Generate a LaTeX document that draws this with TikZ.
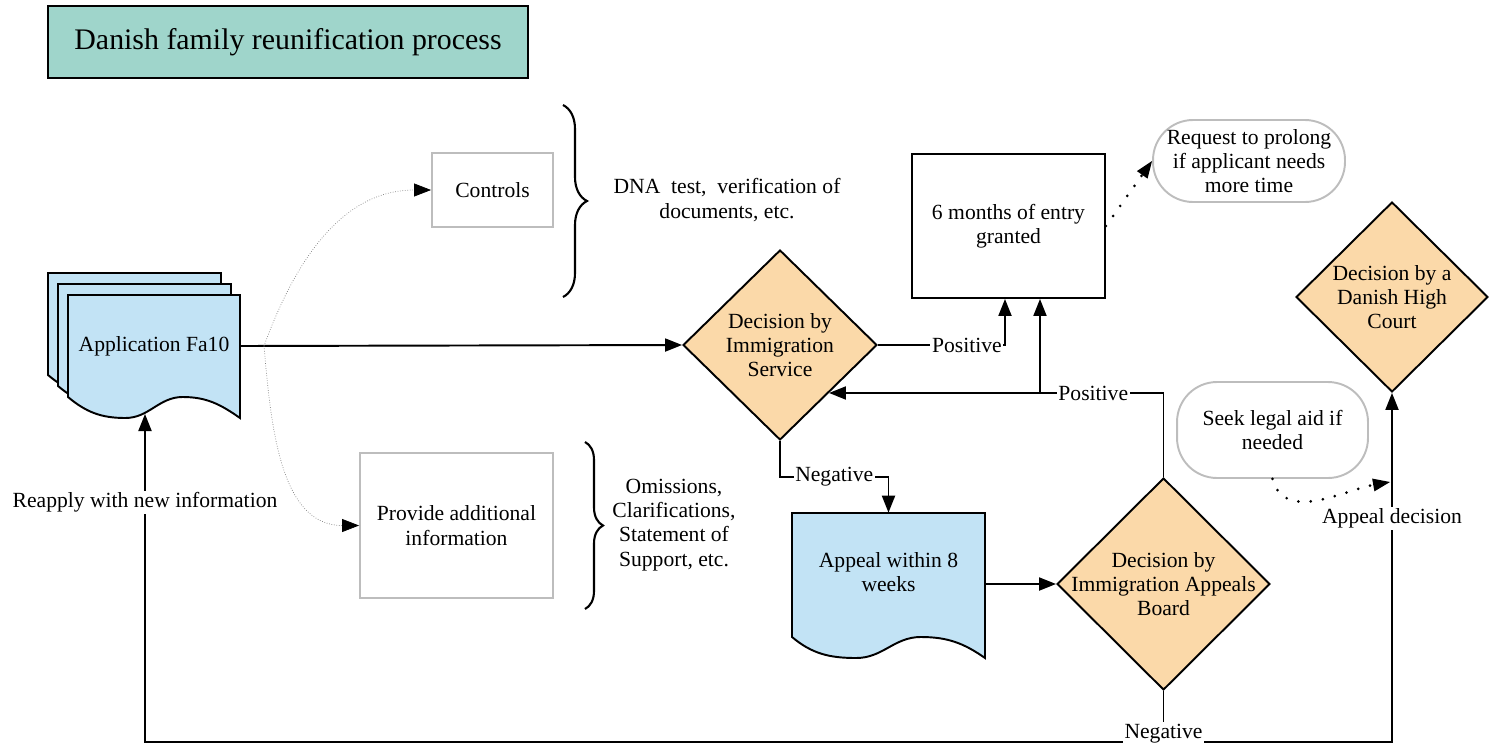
\documentclass[tikz,border=0pt]{standalone}
\usepackage{fontspec}
\setmainfont{Liberation Serif}
\usetikzlibrary{shapes.geometric,arrows.meta,decorations.pathreplacing}

\definecolor{titleteal}{HTML}{9FD5CB}
\definecolor{docblue}{HTML}{C2E3F5}
\definecolor{decorange}{HTML}{FBD9A9}
\definecolor{boxgray}{HTML}{BDBDBD}

% x0, top, width, bottom
\newcommand{\docshape}[4]{(#1,#2) -- ({#1+#3},#2) -- ({#1+#3},#4) to[out=145,in=0] ({#1+2*#3/3},{#4-21}) to[out=180,in=0] ({#1+#3/3},#4) to[out=180,in=-40] (#1,{#4-21}) -- cycle}

\tikzset{
  every node/.style={font=\fontsize{12.3}{13.8}\selectfont},
  conn/.style={line width=1.1pt},
  arr/.style={conn,-{Triangle[length=3.4mm,width=2.6mm]}},
  dotarr/.style={densely dotted,gray,-{Triangle[length=3.4mm,width=2.6mm,black]}},
  blackdot/.style={line width=1.7pt,line cap=round,dash pattern=on 0pt off 7pt,-{Triangle[length=3.4mm,width=2.6mm,line width=0pt]}},
  lab/.style={fill=white,inner sep=1pt},
  graybox/.style={draw=boxgray,line width=1.1pt,align=center},
  pill/.style={draw=boxgray,line width=1.1pt,rounded corners=0.8cm,align=center},
  decision/.style={diamond,draw,fill=decorange,line width=1.1pt,inner sep=0pt},
  docfill/.style={draw,fill=docblue,line width=1.1pt},
  bracket/.style={line width=1.2pt,decorate},
}

\begin{document}
\begin{tikzpicture}[x=0.02cm,y=-0.02cm]
  \useasboundingbox (0,0) rectangle (1497,744);

  \node[draw,fill=titleteal,line width=1.1pt,minimum width=9.6cm,minimum height=1.44cm,font=\fontsize{17}{20}\selectfont] (title) at (288,42) {Danish family reunification process};

  \draw[docfill] \docshape{48}{273}{173}{396};
  \draw[docfill] \docshape{58}{284}{173}{407};
  \draw[docfill] \docshape{68}{295}{172}{418};
  \node[minimum width=3.44cm] (app) at (154,346) {Application Fa10};
  \coordinate (appbot) at (145,414);
  \coordinate (spl) at (264,346);

  \node[graybox,minimum width=2.42cm,minimum height=1.48cm] (ctl) at (492.5,190) {Controls};
  \node[graybox,minimum width=3.86cm,minimum height=2.9cm] (prov) at (456.5,525.5) {Provide additional\\information};
  \node[align=center] (dna) at (727,200) {DNA~ test,~ verification of\\documents, etc.};
  \node[align=center] (oms) at (674,525) {Omissions,\\Clarifications,\\Statement of\\Support, etc.};
  \draw[bracket,decoration={brace,amplitude=0.48cm}] (563,105) -- (563,297);
  \draw[bracket,decoration={brace,amplitude=0.36cm}] (585,442) -- (585,609);

  \node[decision,minimum width=3.88cm,minimum height=3.8cm] (dis) at (780,345) {};
  \node[align=center] (dis-t) at (dis) {Decision by\\Immigration\\Service};

  \node[draw,line width=1.1pt,minimum width=3.86cm,minimum height=2.88cm,align=center] (grant) at (1008.5,226) {6 months of entry\\granted};
  \node[pill,minimum width=3.84cm,minimum height=1.64cm] (req) at (1249,161) {Request to prolong\\if applicant needs\\more time};

  \draw[docfill] \docshape{792}{513}{193}{658};
  \node[minimum width=3.86cm,minimum height=2.36cm,align=center] (apl) at (888.5,572) {Appeal within 8\\weeks};

  \node[decision,minimum width=4.26cm,minimum height=4.24cm] (apb) at (1163.5,584) {};
  \node[align=center] (apb-t) at (apb) {Decision by\\Immigration Appeals\\Board};

  \node[decision,minimum width=3.84cm,minimum height=3.8cm] (hc) at (1392,297) {};
  \node[align=center] (hc-t) at (hc) {Decision by a\\Danish High\\Court};

  \node[pill,minimum width=3.82cm,minimum height=1.92cm] (seek) at (1272.5,430) {Seek legal aid if\\needed};
  \coordinate (aid) at (1390,482);
  \coordinate (bot) at (1163.5,742);

  \draw[arr] (app.east) -- (dis.west);
  \draw[dotarr] (spl) to[out=70,in=180] (ctl.west);
  \draw[dotarr] (spl) to[out=-85,in=180] (prov.west);
  \draw[arr] (dis.east) -| node[lab,pos=0.35]{Positive} ([xshift=-0.07cm]grant.south);
  \draw[arr] (apb.north) |- node[lab,pos=0.605]{Positive} (dis.south east);
  \draw[arr] ([xshift=0.63cm]grant.south |- dis.south east) -- ([xshift=0.63cm]grant.south);
  \draw[blackdot] (grant.east) -- (req.west);
  \draw[arr] (dis.south) -- ++(0,36) -| node[lab,pos=0.25]{Negative} (apl.north);
  \draw[arr] (apl.east |- apb.west) -- (apb.west);
  \draw[arr] (bot) -| node[lab,pos=0.865]{Reapply with new information} (appbot);
  \draw[arr] (bot) -| node[lab,pos=0.82]{Appeal decision} (hc.south);
  \draw[conn] (apb.south) -- node[lab,pos=0.83]{Negative} (bot);
  \draw[blackdot] (seek.south) to[out=-75,in=190] (aid);
\end{tikzpicture}
\end{document}
